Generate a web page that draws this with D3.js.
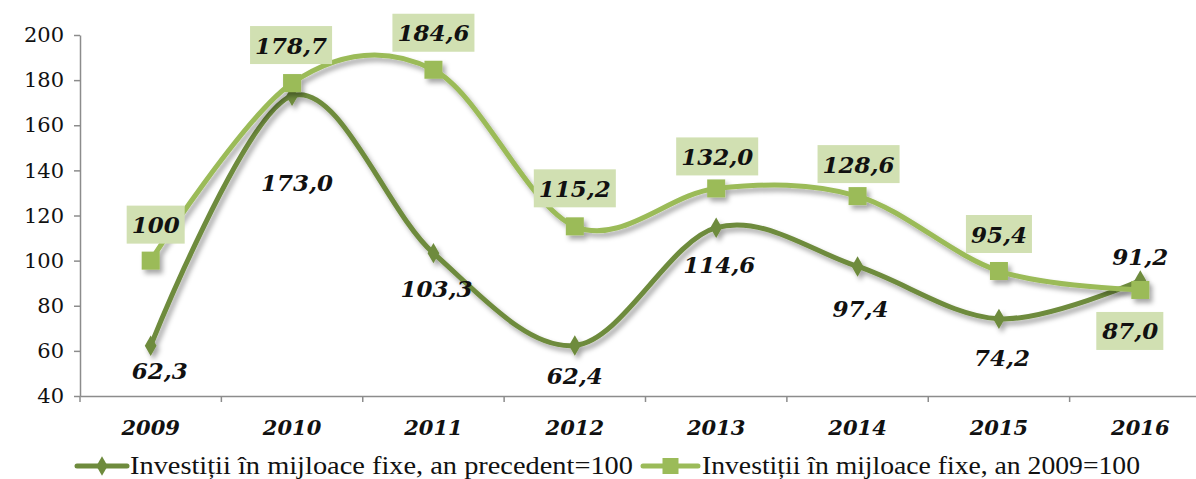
<!DOCTYPE html>
<html><head><meta charset="utf-8">
<script src="https://cdn.jsdelivr.net/npm/d3@7"></script>
<style>body{margin:0;background:#fff}svg{display:block}</style>
</head><body>
<svg id="c" width="1196" height="479"></svg>
<script>
const years = ["2009","2010","2011","2012","2013","2014","2015","2016"];
const prevYear = [62.3,173.0,103.3,62.4,114.6,97.4,74.2,91.2];
const base2009 = [100,178.7,184.6,115.2,132.0,128.6,95.4,87.0];
const yTicks = [40,60,80,100,120,140,160,180,200];
const seriesNames = ["Investiții în mijloace fixe, an precedent=100","Investiții în mijloace fixe, an 2009=100"];

// label offsets (layout) relative to points
const prevOff = [[9,25],[5,87],[3,35],[0,30],[3,37],[3,42],[3,39],[0,-24]];
const baseOff = [[5,-36],[-1,-38],[0,-37],[0,-38],[1,-32],[1,-32],[0,-37],[-10,41]];

const fmt = v => (v===100 ? "100" : d3.format(".1f")(v).replace(".", ","));

const svg = d3.select("#c");
const defs = svg.append("defs");
const f = defs.append("filter").attr("id","sh").attr("x","-20%").attr("y","-20%").attr("width","140%").attr("height","140%");
f.append("feDropShadow").attr("dx",3).attr("dy",4).attr("stdDeviation",2.5).attr("flood-color","#000").attr("flood-opacity",0.35);

const x = d3.scaleBand().domain(years).range([80,1211]);
const y = d3.scaleLinear().domain([40,200]).range([396,35]);
const cx = d => x(d) + x.bandwidth()/2;

// axes
const ya = svg.append("g").attr("transform","translate(80,0)")
  .call(d3.axisLeft(y).tickValues(yTicks).tickSize(6).tickSizeOuter(0).tickPadding(10));
ya.select(".domain").attr("stroke","#8c8c8c").attr("stroke-width",1.5);
ya.selectAll(".tick line").attr("stroke","#8c8c8c").attr("stroke-width",1.5);
ya.selectAll("text").attr("font-family","'DejaVu Serif', serif").attr("font-size",21).attr("fill","#111");

const xa = svg.append("g").attr("transform","translate(0,396)")
  .call(d3.axisBottom(x).tickSize(0).tickPadding(24));
xa.select(".domain").attr("stroke","#8c8c8c").attr("stroke-width",1.5);
xa.selectAll("text").attr("font-family","'DejaVu Serif', serif").attr("font-weight","bold").attr("font-style","italic").attr("font-size",21).attr("fill","#111");
// band boundary ticks
xa.selectAll(".bt").data(years).enter().append("line").attr("class","bt")
  .attr("x1",d=>x(d)).attr("x2",d=>x(d)).attr("y1",0).attr("y2",6)
  .attr("stroke","#8c8c8c").attr("stroke-width",1.5);

const line = d3.line().x((d,i)=>cx(years[i])).y(d=>y(d)).curve(d3.curveCardinal.tension(0));

const dark = "#6e8b3d", light = "#9bbb59", boxFill = "#d1e0b2";

const g1 = svg.append("g").attr("filter","url(#sh)");
g1.append("path").datum(prevYear).attr("d",line).attr("fill","none").attr("stroke",dark).attr("stroke-width",5);
g1.selectAll("path.m").data(prevYear).enter().append("path").attr("class","m")
  .attr("d",d3.symbol().type(d3.symbolDiamond).size(120))
  .attr("transform",(d,i)=>`translate(${cx(years[i])},${y(d)})`).attr("fill",dark);

const g2 = svg.append("g").attr("filter","url(#sh)");
g2.append("path").datum(base2009).attr("d",line).attr("fill","none").attr("stroke",light).attr("stroke-width",5);
g2.selectAll("rect.m").data(base2009).enter().append("rect").attr("class","m")
  .attr("x",(d,i)=>cx(years[i])-9).attr("y",d=>y(d)-9).attr("width",18).attr("height",18).attr("fill",light);

const lblFont = "'DejaVu Serif', serif";
// dark labels
svg.append("g").selectAll("text").data(prevYear).enter().append("text")
  .attr("x",(d,i)=>cx(years[i])+prevOff[i][0]).attr("y",(d,i)=>y(d)+prevOff[i][1])
  .attr("text-anchor","middle").attr("dominant-baseline","central")
  .attr("font-family",lblFont).attr("font-weight","bold").attr("font-style","italic").attr("font-size",23).attr("fill","#111")
  .text(fmt);

// light labels with boxes
const lg = svg.append("g").selectAll("g").data(base2009).enter().append("g")
  .attr("transform",(d,i)=>`translate(${cx(years[i])+baseOff[i][0]},${y(d)+baseOff[i][1]})`);
lg.append("text").attr("text-anchor","middle").attr("dominant-baseline","central")
  .attr("font-family",lblFont).attr("font-weight","bold").attr("font-style","italic").attr("font-size",23).attr("fill","#111")
  .text(fmt);
lg.each(function(){
  const gg = d3.select(this);
  const bb = gg.select("text").node().getBBox();
  gg.insert("rect","text").attr("x",bb.x-5).attr("y",-19).attr("width",bb.width+10).attr("height",38).attr("fill",boxFill);
});

// legend
const leg = svg.append("g");
const legItems = [
  {x0:77, x1:127, tx:130, tw:503, color:dark, type:"diamond", name:seriesNames[0]},
  {x0:643, x1:698, tx:702, tw:438, color:light, type:"square", name:seriesNames[1]}
];
legItems.forEach(it=>{
  leg.append("line").attr("x1",it.x0).attr("x2",it.x1).attr("y1",466).attr("y2",466).attr("stroke",it.color).attr("stroke-width",5).attr("stroke-linecap","round");
  if(it.type==="diamond"){
    leg.append("path").attr("d",d3.symbol().type(d3.symbolDiamond).size(110)).attr("transform",`translate(${(it.x0+it.x1)/2},466)`).attr("fill",it.color);
  } else {
    leg.append("rect").attr("x",(it.x0+it.x1)/2-8).attr("y",458).attr("width",16).attr("height",16).attr("fill",it.color);
  }
  leg.append("text").attr("x",it.tx).attr("y",474)
    .attr("font-family","'Liberation Serif', serif").attr("font-size",25).attr("fill","#111")
    .attr("textLength",it.tw).attr("lengthAdjust","spacingAndGlyphs").text(it.name);
});
</script>
</body></html>
